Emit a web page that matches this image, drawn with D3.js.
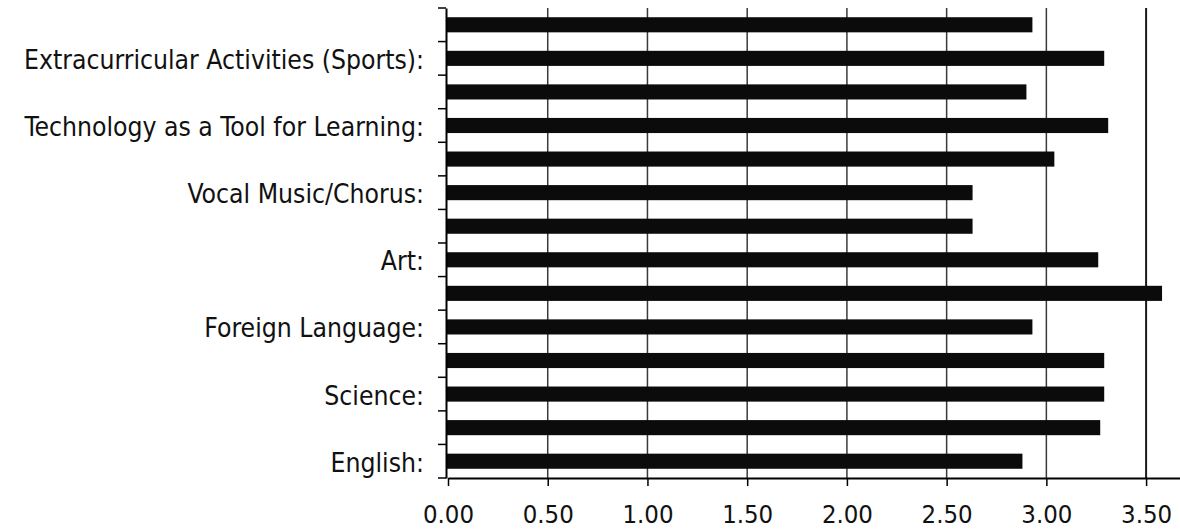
<!DOCTYPE html>
<html>
<head>
<meta charset="utf-8">
<script src="https://cdn.jsdelivr.net/npm/d3@7"></script>
<style>
  html, body { margin: 0; padding: 0; background: #fff; }
  svg { display: block; }
</style>
</head>
<body>
<svg id="chart" width="1180" height="529"></svg>
<script>
// ---- data (bottom to top) ----
const categories = ["c1","c2","c3","c4","c5","c6","c7","c8","c9","c10","c11","c12","c13","c14"];
const categoryLabels = ["English:", "", "Science:", "", "Foreign Language:", "", "Art:", "",
                        "Vocal Music/Chorus:", "", "Technology as a Tool for Learning:", "",
                        "Extracurricular Activities (Sports):", ""];
const values = [2.88, 3.27, 3.29, 3.29, 2.93, 3.58, 3.26, 2.63, 2.63, 3.04, 3.31, 2.90, 3.29, 2.93];
const xTicks = [0, 0.5, 1.0, 1.5, 2.0, 2.5, 3.0, 3.5];

const svg = d3.select("#chart");
const font = "'DejaVu Sans Condensed', 'DejaVu Sans', sans-serif";

const x = d3.scaleLinear().domain([0, 3.675]).range([448, 1181]);
const y = d3.scaleBand().domain(categories.slice().reverse()).range([8, 478]).paddingInner(0).paddingOuter(0);

// gridlines
svg.append("g").selectAll("line").data(xTicks.filter(d => d > 0)).join("line")
  .attr("x1", d => x(d)).attr("x2", d => x(d))
  .attr("y1", 8).attr("y2", 478)
  .attr("stroke", d => d === 3.5 ? "#1a1a1a" : "#3a3a3a")
  .attr("stroke-width", d => d === 3.5 ? 2 : 1.5);

// bars
const barH = y.bandwidth() * 0.45;
svg.append("g").selectAll("rect").data(categories).join("rect")
  .attr("x", x(0) - 1)
  .attr("y", (d, i) => y(d) + (y.bandwidth() - barH) / 2)
  .attr("width", (d, i) => x(values[i]) - x(0) + 1)
  .attr("height", barH)
  .attr("fill", "#0b0b0b");

// y axis
const yAxis = d3.axisLeft(y).tickSize(0).tickFormat((d, i) => categoryLabels[categories.indexOf(d)]).tickPadding(22);
const gy = svg.append("g").attr("transform", `translate(${x(0) - 2},0)`).call(yAxis);
gy.select(".domain").attr("stroke", "#000").attr("stroke-width", 2);
gy.selectAll("text").attr("font-family", font).attr("font-size", 26.3).attr("fill", "#111").attr("dy", "0.4em");
// band boundary ticks
svg.append("g").selectAll("line").data(d3.range(categories.length + 1)).join("line")
  .attr("x1", x(0) - 10).attr("x2", x(0) - 2)
  .attr("y1", i => 8 + i * y.step()).attr("y2", i => 8 + i * y.step())
  .attr("stroke", "#000").attr("stroke-width", 1.5);

// x axis
const xAxis = d3.axisBottom(x).tickValues(xTicks).tickFormat(d3.format(".2f")).tickSize(8).tickPadding(19).tickSizeOuter(0);
const gx = svg.append("g").attr("transform", "translate(0,478)").call(xAxis);
gx.select(".domain").attr("stroke", "#000").attr("stroke-width", 2);
gx.selectAll(".tick line").attr("stroke", "#000").attr("stroke-width", 1.5);
gx.selectAll("text").attr("font-family", font).attr("font-size", 25.5).attr("fill", "#111");
</script>
</body>
</html>
